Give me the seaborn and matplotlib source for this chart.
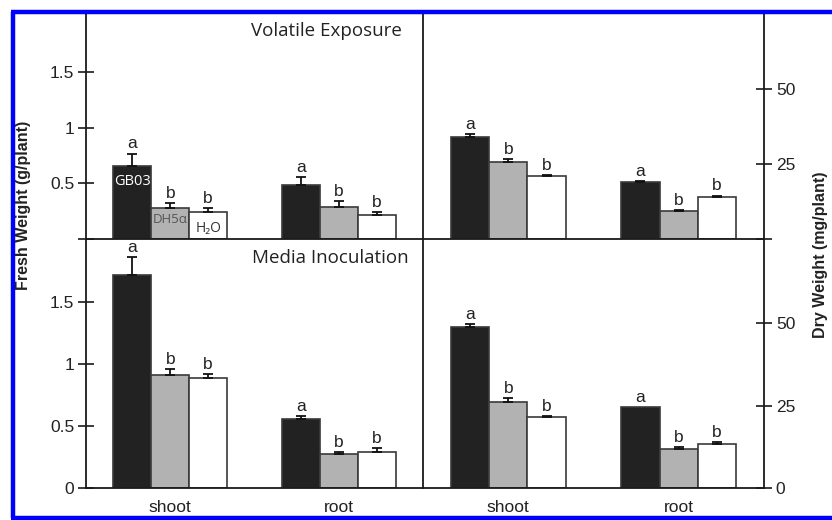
import matplotlib
matplotlib.use("Agg")
import matplotlib.pyplot as plt
from matplotlib.lines import Line2D
import seaborn as sns
import pandas as pd

# ---------------- data ----------------
tissues = ["shoot", "root"]
treatments = ["GB03", "DH5α", "H₂O"]
letters = ["a", "b", "b"]

vol_fresh_shoot = [0.66, 0.28, 0.24]
vol_fresh_root = [0.49, 0.29, 0.22]
vol_fresh_err_shoot = [0.11, 0.04, 0.04]
vol_fresh_err_root = [0.07, 0.05, 0.02]

vol_dry_shoot = [34.0, 25.7, 21.0]
vol_dry_root = [19.0, 9.3, 14.1]
vol_dry_err_shoot = [1.0, 1.0, 0.4]
vol_dry_err_root = [0.4, 0.4, 0.4]

med_fresh_shoot = [1.72, 0.91, 0.89]
med_fresh_root = [0.556, 0.274, 0.29]
med_fresh_err_shoot = [0.14, 0.05, 0.03]
med_fresh_err_root = [0.025, 0.015, 0.03]

med_dry_shoot = [48.7, 26.2, 21.4]
med_dry_root = [24.5, 11.7, 13.4]
med_dry_err_shoot = [1.0, 1.0, 0.5]
med_dry_err_root = [0.0, 0.8, 0.5]

fresh_ticks = [0, 0.5, 1, 1.5]
fresh_ticklabels_top = ["", "0.5", "1", "1.5"]
fresh_ticklabels_bot = ["0", "0.5", "1", "1.5"]
dry_ticks = [0, 25, 50]
dry_ticklabels_top = ["", "25", "50"]
dry_ticklabels_bot = ["0", "25", "50"]

bar_colors = ["#222222", "#b2b2b2", "#ffffff"]

# ---------------- style ----------------
sns.set_style("white")
plt.rcParams["font.family"] = ["Liberation Sans", "DejaVu Sans"]
CAL = ["Open Sans", "DejaVu Sans"]
SPINE = "#1a1a1a"

W, H = 832, 520
fig = plt.figure(figsize=(W / 100, H / 100), dpi=100)


def fx(px):
    return px / W


def fy(py):
    return 1 - py / H


x0, xm, x1 = 86, 423, 764
ytop, ymid, ybot = 12, 239, 488

ax_tl = fig.add_axes([fx(x0), fy(ymid), fx(xm) - fx(x0), fy(ytop) - fy(ymid)])
ax_tr = fig.add_axes([fx(xm), fy(ymid), fx(x1) - fx(xm), fy(ytop) - fy(ymid)])
ax_bl = fig.add_axes([fx(x0), fy(ybot), fx(xm) - fx(x0), fy(ymid) - fy(ybot)])
ax_br = fig.add_axes([fx(xm), fy(ybot), fx(x1) - fx(xm), fy(ymid) - fy(ybot)])


def make_df(shoot, root, es, er):
    rows = []
    for i, t in enumerate(treatments):
        rows.append({"tissue": "shoot", "treatment": t, "value": shoot[i], "err": es[i]})
        rows.append({"tissue": "root", "treatment": t, "value": root[i], "err": er[i]})
    return pd.DataFrame(rows)


def draw(ax, df, ylim, side, ticks, ticklabels, bottom_labels, inbar=False):
    sns.barplot(data=df, x="tissue", y="value", hue="treatment",
                order=tissues, hue_order=treatments, palette=bar_colors,
                width=0.675, gap=0, errorbar=None, legend=False,
                edgecolor="#3a3a3a", linewidth=1.2, saturation=1, ax=ax, zorder=2)
    ax.set_xlim(-0.5, 1.5)
    ax.set_ylim(*ylim)
    ax.set_xlabel("")
    ax.set_ylabel("")
    ax.patch.set_alpha(0)
    for sp in ax.spines.values():
        sp.set_color(SPINE)
        sp.set_linewidth(1.3)
    ax.spines["top"].set_visible(False)
    if side == "left":
        ax.spines["right"].set_visible(False)
        ax.yaxis.tick_left()
    else:
        ax.spines["left"].set_visible(True)
        ax.yaxis.tick_right()
    ax.set_yticks(ticks)
    ax.set_yticklabels(ticklabels)
    ax.tick_params(axis="y", direction="inout", length=11, width=1.2,
                   color=SPINE, labelsize=12.5, pad=3, labelcolor="#222222")
    # x: major ticks carry the category labels, minor ticks are the dividers
    ax.set_xticks([0, 1])
    ax.set_xticks([-0.5, 0.5, 1.5], minor=True)
    ax.tick_params(axis="x", which="major", length=0, pad=9, labelsize=12.5,
                   labelbottom=bottom_labels, labelcolor="#222222")
    ax.tick_params(axis="x", which="minor", direction="inout", length=9,
                   width=1.2, color=SPINE)

    bar_conts = list(ax.containers)
    for hi, cont in enumerate(bar_conts):
        t = treatments[hi]
        for ti, bar in enumerate(cont):
            tissue = tissues[ti]
            row = df[(df.tissue == tissue) & (df.treatment == t)].iloc[0]
            cx = bar.get_x() + bar.get_width() / 2
            top = bar.get_height()
            if row.err > 0:
                ax.errorbar(cx, top, yerr=[[0], [row.err]], fmt="none",
                            ecolor="#111111", elinewidth=1.3, capsize=3.5,
                            capthick=1.3, zorder=3)
            ax.annotate(letters[hi], (cx, top + row.err), xytext=(0, 1.5),
                        textcoords="offset points", ha="center", va="bottom",
                        fontsize=12.5, color="#222222", zorder=4)
            if inbar and tissue == "shoot":
                if hi == 0:
                    ax.annotate("GB03", (cx, top), xytext=(0, -11),
                                textcoords="offset points", ha="center",
                                va="center", fontsize=10.5, color="white",
                                family=CAL, zorder=4)
                elif hi == 1:
                    ax.annotate("DH5α", (cx, top), xytext=(0, -8.5),
                                textcoords="offset points", ha="center",
                                va="center", fontsize=9.5, color="#555555",
                                family=CAL, zorder=4)
                else:
                    ax.annotate("H₂O", (cx, top), xytext=(0, -11.5),
                                textcoords="offset points", ha="center",
                                va="center", fontsize=10, color="#333333",
                                family=CAL, zorder=4)


draw(ax_tl, make_df(vol_fresh_shoot, vol_fresh_root, vol_fresh_err_shoot, vol_fresh_err_root),
     (0, 2.045), "left", fresh_ticks, fresh_ticklabels_top, False, inbar=True)
draw(ax_tr, make_df(vol_dry_shoot, vol_dry_root, vol_dry_err_shoot, vol_dry_err_root),
     (0, 75.7), "right", dry_ticks, dry_ticklabels_top, False)
draw(ax_bl, make_df(med_fresh_shoot, med_fresh_root, med_fresh_err_shoot, med_fresh_err_root),
     (0, 2.008), "left", fresh_ticks, fresh_ticklabels_bot, True)
draw(ax_br, make_df(med_dry_shoot, med_dry_root, med_dry_err_shoot, med_dry_err_root),
     (0, 75.5), "right", dry_ticks, dry_ticklabels_bot, True)

# panel titles
fig.text(fx(326), fy(31), "Volatile Exposure", ha="center", va="center",
         fontsize=13.5, family=CAL, color="#222222")
fig.text(fx(330), fy(258), "Media Inoculation", ha="center", va="center",
         fontsize=13.5, family=CAL, color="#222222")

# axis titles
fig.text(fx(24), fy(205), "Fresh Weight (g/plant)", rotation=90, ha="center",
         va="center", fontsize=11.5, fontweight="bold", color="#222222")
fig.text(fx(821), fy(255), "Dry Weight (mg/plant)", rotation=90, ha="center",
         va="center", fontsize=11.5, fontweight="bold", color="#222222")

# blue frame
BLUE = "#0000ff"
fig.add_artist(Line2D([fx(13), fx(13)], [fy(12), fy(518)], color=BLUE, lw=3.2,
                      transform=fig.transFigure, solid_capstyle="butt"))
fig.add_artist(Line2D([fx(11), 1], [fy(12), fy(12)], color=BLUE, lw=3.2,
                      transform=fig.transFigure, solid_capstyle="butt"))
fig.add_artist(Line2D([fx(11), 1], [fy(518), fy(518)], color=BLUE, lw=3.2,
                      transform=fig.transFigure, solid_capstyle="butt"))

fig.savefig("out.png", dpi=100)
